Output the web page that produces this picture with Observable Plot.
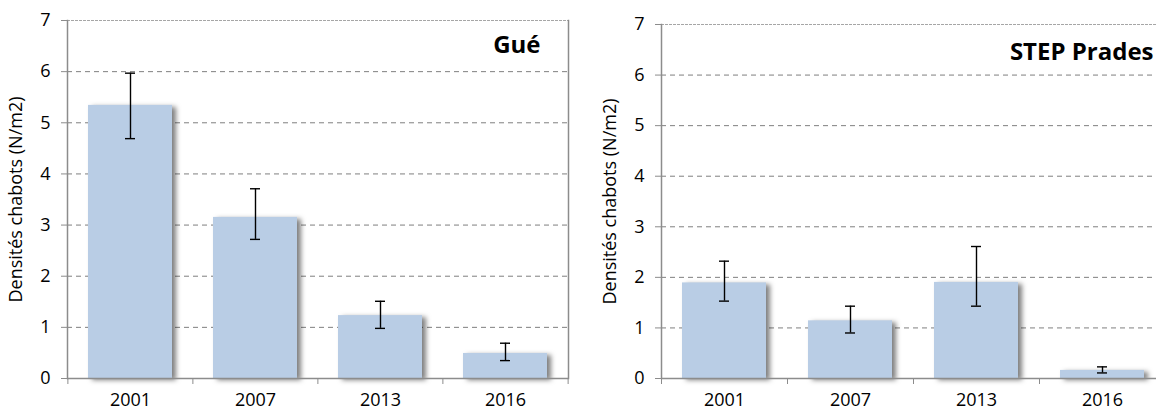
<!DOCTYPE html>
<html><head><meta charset="utf-8">
<script src="https://cdn.jsdelivr.net/npm/d3@7"></script>
<script src="https://cdn.jsdelivr.net/npm/@observablehq/plot@0.6"></script>
<style>
html,body{margin:0;padding:0;background:#fff;}
body{width:1156px;height:414px;overflow:hidden;}
#wrap{position:relative;width:1156px;height:414px;overflow:hidden;}
.panel{position:absolute;top:0;}
.panel svg{max-width:none !important;}
</style></head><body><div id="wrap"></div>
<script>
// ---- data ----
const years = ["2001", "2007", "2013", "2016"];
const gueMean = [5.34, 3.15, 1.23, 0.49];
const gueLow = [4.69, 2.72, 0.98, 0.35];
const gueHigh = [5.97, 3.71, 1.51, 0.69];
const pradesMean = [1.89, 1.14, 1.90, 0.16];
const pradesLow = [1.53, 0.90, 1.43, 0.11];
const pradesHigh = [2.32, 1.43, 2.61, 0.23];
const yTicks = [0, 1, 2, 3, 4, 5, 6, 7];
const yLabel = "Densités chabots (N/m2)";
const titles = ["Gué", "STEP Prades"];

const FONT = "'Open Sans', 'Noto Sans', sans-serif";

function panel({mean, low, high, title, left, width, marginLeft, marginRight, marginTop, titleDx, titleDy}) {
  const data = years.map((y, i) => ({year: y, mean: mean[i], low: low[i], high: high[i]}));
  const height = 414, marginBottom = 36;
  const plotW = width - marginLeft - marginRight;
  const step = plotW / years.length;
  const grey = "#8c8c8c";
  const chart = Plot.plot({
    width, height, marginLeft, marginRight, marginTop, marginBottom,
    style: {fontFamily: FONT, fontSize: "18px", background: "transparent", color: "#000", overflow: "visible", maxWidth: "none"},
    x: {domain: years, paddingInner: 0.33, paddingOuter: 0.165, axis: null},
    y: {domain: [0, 7], axis: null},
    marks: [
      Plot.gridY(yTicks.filter(t => t > 0 && t < 7), {stroke: "#7f7f7f", strokeOpacity: 1, strokeDasharray: "5,4", strokeWidth: 1}),
      Plot.gridY([7], {stroke: "#a6a6a6", strokeOpacity: 1, strokeDasharray: "3,1", strokeWidth: 1}),
      Plot.frame({anchor: "left", stroke: grey, strokeWidth: 1.5}),
      Plot.frame({anchor: "right", stroke: grey, strokeWidth: 1.5}),
      Plot.axisY({ticks: yTicks, tickSize: 6, tickPadding: 11, stroke: grey, fontSize: 18, tickFormat: d => String(d),
        label: yLabel, labelAnchor: "center", labelOffset: 58, labelArrow: "none"}),
      Plot.barY(data, {x: "year", y: "mean", fill: "#b9cde5"}),
      Plot.ruleY([0], {stroke: grey, strokeWidth: 1.5}),
      Plot.axisX({ticks: years, tickSize: 6, dx: -step / 2, stroke: grey, tickFormat: () => "", label: null}),
      Plot.axisX({ticks: [years[years.length - 1]], tickSize: 6, dx: step / 2, stroke: grey, tickFormat: () => "", label: null}),
      Plot.axisX({ticks: years, tickSize: 0, tickPadding: 15, fontSize: 18, label: null}),
      Plot.ruleX(data, {x: "year", y1: "low", y2: "high", stroke: "#000", strokeWidth: 1.4}),
      Plot.tickY(data, {x: "year", y: "low", stroke: "#000", strokeWidth: 1.4, insetLeft: 37, insetRight: 37}),
      Plot.tickY(data, {x: "year", y: "high", stroke: "#000", strokeWidth: 1.4, insetLeft: 37, insetRight: 37}),
      Plot.text([title], {frameAnchor: "top-right", textAnchor: "end", lineAnchor: "middle",
        dx: titleDx, dy: titleDy, fontWeight: "bold", fontSize: 24, fill: "#000"})
    ]
  });
  chart.style.maxWidth = "none";
  const bars = chart.querySelector('g[aria-label="bar"]');
  if (bars) bars.style.filter = "drop-shadow(4px 2px 2.5px rgba(0,0,0,0.5))";
  const div = document.createElement("div");
  div.className = "panel";
  div.style.left = left + "px";
  div.style.width = width + "px";
  div.appendChild(chart);
  document.getElementById("wrap").appendChild(div);
}

panel({mean: gueMean, low: gueLow, high: gueHigh, title: titles[0], left: 0, width: 580,
  marginLeft: 67, marginRight: 12, marginTop: 20, titleDx: -28, titleDy: 25});
panel({mean: pradesMean, low: pradesLow, high: pradesHigh, title: titles[1], left: 580, width: 586,
  marginLeft: 81, marginRight: 1, marginTop: 24, titleDx: -12, titleDy: 28});
</script>
</body></html>
